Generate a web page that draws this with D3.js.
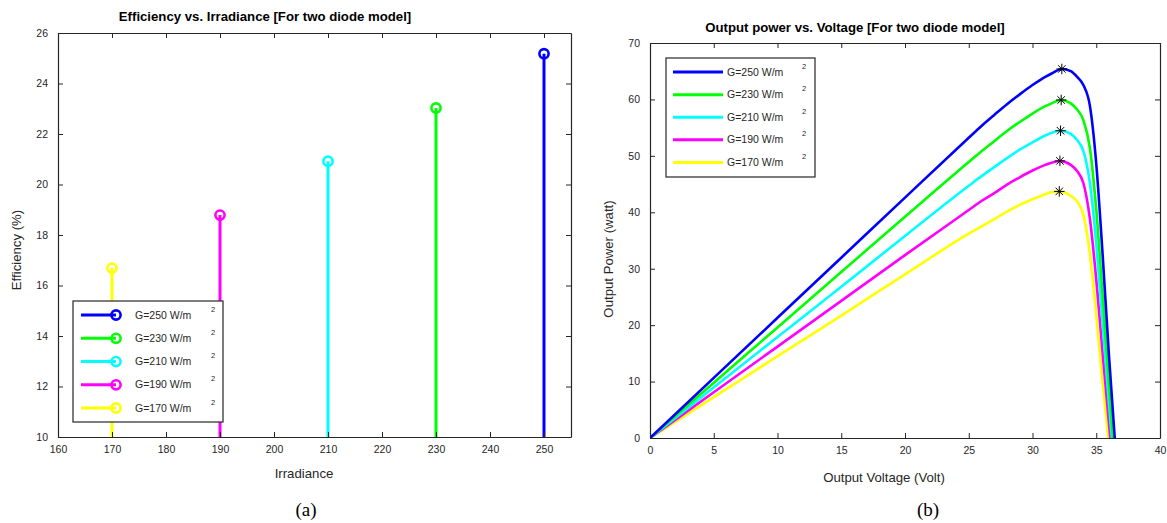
<!DOCTYPE html>
<html>
<head>
<meta charset="utf-8">
<script src="https://cdn.jsdelivr.net/npm/d3@7"></script>
<style>
  html, body { margin: 0; padding: 0; background: #fff; }
  svg { display: block; }
  text { font-family: "Liberation Sans", Arial, Helvetica, sans-serif; fill: #262626; }
</style>
</head>
<body>
<svg id="fig" width="1167" height="523"></svg>
<script>
// ---- Panel (a): efficiency at each irradiance level ----
const irradiance = [170, 190, 210, 230, 250];
const efficiency = [16.69, 18.79, 20.92, 23.03, 25.18];
const seriesColors = ["#ffff00", "#ff00ff", "#00ffff", "#00ff00", "#0000ff"];
const effXTicks = [160, 170, 180, 190, 200, 210, 220, 230, 240, 250];
const effYTicks = [10, 12, 14, 16, 18, 20, 22, 24, 26];

// ---- Panel (b): P-V curves, [voltage, power] pairs per irradiance ----
const pv170 = [[0,0],[5,7.24],[10,14.5],[15,21.7],[20,29.0],[25,36.2],[26,37.5],[27,38.8],[28,40.1],[29,41.3],[30,42.3],[31,43.2],[31.5,43.6],[32.1,43.7],[33,42.9],[33.5,41.9],[34,39.5],[34.5,32.6],[35,21.8],[35.5,9.7],[35.95,0]];
const pv190 = [[0,0],[5,8.1],[10,16.2],[15,24.3],[20,32.4],[25,40.4],[26,42.0],[27,43.4],[28,44.9],[29,46.2],[30,47.4],[31,48.4],[31.5,48.8],[32.15,49.1],[33,48.4],[33.5,47.3],[34,45.1],[34.5,38.9],[35,28.1],[35.5,15.0],[36,2.5],[36.1,0]];
const pv210 = [[0,0],[5,8.95],[10,17.9],[15,26.8],[20,35.8],[25,44.7],[26,46.4],[27,48.0],[28,49.6],[29,51.1],[30,52.4],[31,53.6],[31.5,54.1],[32.2,54.45],[33,53.9],[33.5,52.8],[34,50.8],[34.5,45.2],[35,34.4],[35.5,20.3],[36,6.0],[36.22,0]];
const pv230 = [[0,0],[5,9.8],[10,19.6],[15,29.4],[20,39.2],[25,48.9],[26,50.8],[27,52.6],[28,54.4],[29,56.0],[30,57.5],[31,58.8],[31.5,59.3],[32.25,59.9],[33,59.3],[33.5,58.2],[34,56.3],[34.5,51.4],[35,40.5],[35.5,25.2],[36,9.2],[36.31,0]];
const pv250 = [[0,0],[5,10.65],[10,21.3],[15,31.95],[20,42.6],[25,53.2],[26,55.3],[27,57.25],[28,59.15],[29,60.9],[30,62.55],[31,64.0],[31.5,64.6],[32.3,65.4],[33,65.0],[33.5,64.0],[34,62.5],[34.5,58.9],[35,48.6],[35.5,32.5],[36,14.5],[36.45,0]];
const pvCurves = [pv170, pv190, pv210, pv230, pv250];
const mppVoltage = [32.1, 32.15, 32.2, 32.25, 32.3];
const mppPower = [43.7, 49.1, 54.45, 59.9, 65.4];
const pvXTicks = [0, 5, 10, 15, 20, 25, 30, 35, 40];
const pvYTicks = [0, 10, 20, 30, 40, 50, 60, 70];

// legend rows, listed top to bottom
const legendLabels = ["G=250 W/m", "G=230 W/m", "G=210 W/m", "G=190 W/m", "G=170 W/m"];
const legendColors = ["#0000ff", "#00ff00", "#00ffff", "#ff00ff", "#ffff00"];

const svg = d3.select("#fig");
const AX = "#262626";
const SERIF = '"Liberation Serif", "Times New Roman", serif';

// Draws a boxed axes with inward ticks on all four sides.
function drawFrame(g, x, y, xTicks, yTicks) {
  const [x0, x1] = x.range();
  const [y0, y1] = y.range();
  const tl = 5;
  const bottom = d3.axisBottom(x).tickValues(xTicks).tickSizeInner(-tl).tickSizeOuter(0).tickPadding(9);
  const top = d3.axisTop(x).tickValues(xTicks).tickSizeInner(-tl).tickSizeOuter(0).tickFormat("");
  const left = d3.axisLeft(y).tickValues(yTicks).tickSizeInner(-tl).tickSizeOuter(0).tickPadding(10);
  const right = d3.axisRight(y).tickValues(yTicks).tickSizeInner(-tl).tickSizeOuter(0).tickFormat("");
  const gb = g.append("g").attr("transform", `translate(0,${y0})`).call(bottom);
  const gt = g.append("g").attr("transform", `translate(0,${y1})`).call(top);
  const gl = g.append("g").attr("transform", `translate(${x0},0)`).call(left);
  const gr = g.append("g").attr("transform", `translate(${x1},0)`).call(right);
  [gb, gt, gl, gr].forEach(a => {
    a.selectAll("path.domain").attr("stroke", AX).attr("stroke-width", 1.2);
    a.selectAll(".tick line").attr("stroke", AX).attr("stroke-width", 1);
    a.selectAll(".tick text").attr("font-size", "10.5px").attr("fill", AX);
  });
}

// Legend box; drawSample paints the key for each row.
function drawLegend(g, bx, by, bw, bh, rowY, lineX0, lineX1, textX, supX, drawSample) {
  g.append("rect").attr("x", bx).attr("y", by).attr("width", bw).attr("height", bh)
    .attr("fill", "#fff").attr("stroke", AX).attr("stroke-width", 1.2);
  legendLabels.forEach((lab, i) => {
    const yy = rowY[i];
    drawSample(g, lineX0, lineX1, yy, legendColors[i]);
    g.append("text").attr("x", textX).attr("y", yy).attr("dy", "0.35em")
      .attr("font-size", "10.5px").text(lab);
    g.append("text").attr("x", supX).attr("y", yy - 6).attr("dy", "0.35em")
      .attr("font-size", "7.5px").text("2");
  });
}

// ================= Panel (a) =================
{
  const x = d3.scaleLinear().domain([160, 255]).range([58, 571]);
  const y = d3.scaleLinear().domain([10, 26]).range([437, 33]);
  const g = svg.append("g");
  g.append("clipPath").attr("id", "clipA").append("rect")
    .attr("x", 58).attr("y", 33).attr("width", 571 - 58).attr("height", 437 - 33);

  const plot = g.append("g").attr("clip-path", "url(#clipA)");
  irradiance.forEach((v, i) => {
    plot.append("line")
      .attr("x1", x(v)).attr("x2", x(v))
      .attr("y1", y(0)).attr("y2", y(efficiency[i]))
      .attr("stroke", seriesColors[i]).attr("stroke-width", 3);
    plot.append("circle")
      .attr("cx", x(v)).attr("cy", y(efficiency[i])).attr("r", 4.6)
      .attr("fill", "none").attr("stroke", seriesColors[i]).attr("stroke-width", 2.6);
  });

  drawFrame(g, x, y, effXTicks, effYTicks);

  g.append("text").attr("x", 265).attr("y", 21).attr("text-anchor", "middle")
    .attr("font-size", "13.2px").attr("font-weight", "bold").style("fill", "#000")
    .text("Efficiency vs. Irradiance [For two diode model]");
  g.append("text").attr("x", 304).attr("y", 478).attr("text-anchor", "middle")
    .attr("font-size", "13.2px").text("Irradiance");
  g.append("text").attr("transform", "translate(21,250) rotate(-90)").attr("text-anchor", "middle")
    .attr("font-size", "13.2px").text("Efficiency (%)");

  drawLegend(g, 73, 301, 150, 121, [315, 338.3, 361.6, 384.8, 408], 81, 116, 135, 211,
    (lg, a, b, yy, c) => {
      lg.append("line").attr("x1", a).attr("x2", b).attr("y1", yy).attr("y2", yy)
        .attr("stroke", c).attr("stroke-width", 3);
      lg.append("circle").attr("cx", b).attr("cy", yy).attr("r", 4.6)
        .attr("fill", "none").attr("stroke", c).attr("stroke-width", 2.6);
    });

  g.append("text").attr("x", 306).attr("y", 516).attr("text-anchor", "middle")
    .style("font-family", SERIF).attr("font-size", "19px").style("fill", "#000").text("(a)");
}

// ================= Panel (b) =================
{
  const x = d3.scaleLinear().domain([0, 40]).range([650, 1160]);
  const y = d3.scaleLinear().domain([0, 70]).range([438, 43]);
  const g = svg.append("g");
  g.append("clipPath").attr("id", "clipB").append("rect")
    .attr("x", 650).attr("y", 43).attr("width", 1160 - 650).attr("height", 438 - 43);

  const line = d3.line().x(d => x(d[0])).y(d => y(d[1])).curve(d3.curveMonotoneX);
  const plot = g.append("g").attr("clip-path", "url(#clipB)");
  // lowest irradiance first so higher curves sit on top
  pvCurves.forEach((pts, i) => {
    plot.append("path").datum(pts).attr("d", line)
      .attr("fill", "none").attr("stroke", seriesColors[i]).attr("stroke-width", 2.6)
      .attr("stroke-linejoin", "round");
  });

  // asterisk marker for the maximum power points
  const asterisk = {
    draw(ctx, size) {
      const r = Math.sqrt(size) / 2;
      const d = r * Math.SQRT1_2;
      ctx.moveTo(-r, 0); ctx.lineTo(r, 0);
      ctx.moveTo(0, -r); ctx.lineTo(0, r);
      ctx.moveTo(-d, -d); ctx.lineTo(d, d);
      ctx.moveTo(-d, d); ctx.lineTo(d, -d);
    }
  };
  const sym = d3.symbol().type(asterisk).size(110);
  mppVoltage.forEach((v, i) => {
    g.append("path").attr("d", sym())
      .attr("transform", `translate(${x(v)},${y(mppPower[i])})`)
      .attr("fill", "none").attr("stroke", "#000").attr("stroke-width", 1);
  });

  drawFrame(g, x, y, pvXTicks, pvYTicks);

  g.append("text").attr("x", 855).attr("y", 32).attr("text-anchor", "middle")
    .attr("font-size", "13.2px").attr("font-weight", "bold").style("fill", "#000")
    .text("Output power vs. Voltage [For two diode model]");
  g.append("text").attr("x", 884).attr("y", 482).attr("text-anchor", "middle")
    .attr("font-size", "13.2px").text("Output Voltage (Volt)");
  g.append("text").attr("transform", "translate(613,259) rotate(-90)").attr("text-anchor", "middle")
    .attr("font-size", "13.2px").text("Output Power (watt)");

  drawLegend(g, 666, 58, 149, 119, [72, 94.7, 117.3, 139.8, 162.6], 673, 723, 727, 802,
    (lg, a, b, yy, c) => {
      lg.append("line").attr("x1", a).attr("x2", b).attr("y1", yy).attr("y2", yy)
        .attr("stroke", c).attr("stroke-width", 3);
    });

  g.append("text").attr("x", 928).attr("y", 516).attr("text-anchor", "middle")
    .style("font-family", SERIF).attr("font-size", "19px").style("fill", "#000").text("(b)");
}
</script>
</body>
</html>
